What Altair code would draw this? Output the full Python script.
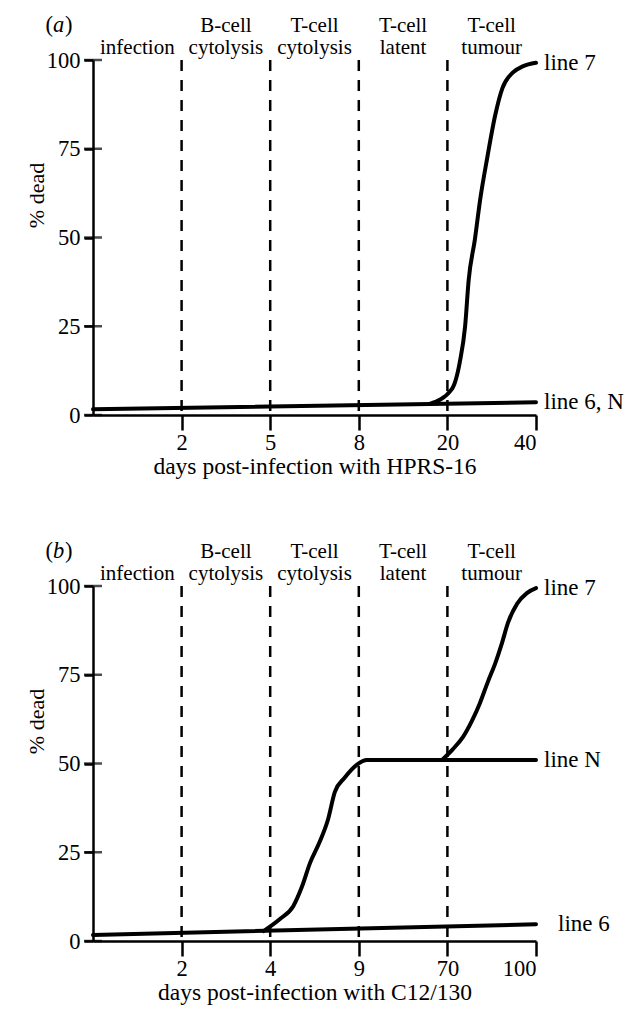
import altair as alt
import numpy as np
import pandas as pd

FONT = "Liberation Serif"

# ---------------- data ----------------
stage_top = ["", "B-cell", "T-cell", "T-cell", "T-cell"]
stage_bottom = ["infection", "cytolysis", "cytolysis", "latent", "tumour"]
y_ticks = [0, 25, 50, 75, 100]

# panel (a)
a_breaks = [0, 2, 5, 8, 20, 40]
a_line6_days = [0, 40]
a_line6_pct = [1.6, 3.6]
a_line7_days = [17.6, 21, 22.8, 24, 24.8, 26.2, 27.4, 29, 30.8, 32.4, 34.8, 37, 40]
a_line7_pct = [3.1, 7.3, 14.9, 25, 38, 49.4, 60.7, 72.5, 84.5, 92, 96.5, 98.2, 99.2]

# panel (b)
b_breaks = [0, 2, 4, 9, 70, 100]
b_line6_days = [0, 100]
b_line6_pct = [1.7, 4.7]
b_lineN_days = [3.85, 4.55, 5.3, 5.8, 6.25, 6.8, 7.25, 7.65, 8.2, 8.9, 14.5, 70, 100]
b_lineN_pct = [2.8, 6.2, 9.8, 15.4, 22, 28, 34, 42, 46, 49.7, 51, 51, 51]
b_line7_days = [66.3, 71.8, 75.3, 78.3, 81, 83.7, 86.1, 88.5, 90.5, 93.6, 96.9, 100]
b_line7_pct = [51, 54, 57.5, 62, 67, 73, 78, 84, 89.6, 95, 98, 99.4]


def to_pos(days, breaks):
    return np.interp(days, breaks, list(range(len(breaks))))


def txt(size=21, **kw):
    base = dict(font=FONT, fontSize=size, color="black", baseline="middle")
    base.update(kw)
    return base


def panel(tag, xtitle, breaks, series, near_labels, far_labels):
    n = len(breaks) - 1
    rows = []
    for name, days, pct in series:
        for d, p in zip(days, pct):
            rows.append({"series": name, "pos": float(to_pos(d, breaks)), "pct": p})
    lines_df = pd.DataFrame(rows)

    tick_labels = [""] + [str(b) for b in breaks[1:]]
    label_expr = "[" + ",".join("'" + t + "'" for t in tick_labels) + "][datum.value]"

    x_enc = alt.X(
        "pos:Q",
        scale=alt.Scale(domain=[0, n], nice=False, zero=False),
        axis=alt.Axis(
            values=list(range(1, n + 1)),
            labelExpr=label_expr,
            title=xtitle,
            tickSize=15,
            labelPadding=1,
            titlePadding=1,
            titleFontSize=23.5,
        ),
    )
    y_enc = alt.Y(
        "pct:Q",
        scale=alt.Scale(domain=[0, 100], nice=False),
        axis=alt.Axis(
            values=y_ticks,
            title="% dead",
            tickSize=9,
            labelPadding=4,
            titleX=-57,
            titleY=135,
            titleAlign="center",
            titleBaseline="middle",
        ),
    )

    curves = alt.Chart(lines_df).mark_line(
        color="black", strokeWidth=4, interpolate="monotone", strokeCap="round"
    ).encode(x=x_enc, y=y_enc, detail="series:N")

    dash_df = pd.DataFrame({"pos": list(range(1, n))})
    dashes = alt.Chart(dash_df).mark_rule(
        color="black", strokeWidth=2.5, strokeDash=[11, 9]
    ).encode(x="pos:Q", y=alt.datum(100), y2=alt.datum(0))

    ytick_df = pd.DataFrame({"pct": y_ticks})
    yticks = alt.Chart(ytick_df).mark_tick(
        orient="horizontal", size=18, thickness=2.5, color="black"
    ).encode(x=alt.datum(0), y="pct:Q")

    stage_df = pd.DataFrame(
        {"pos": [i + 0.5 for i in range(n)], "top": stage_top, "bottom": stage_bottom}
    )
    st_top = alt.Chart(stage_df).mark_text(**txt()).encode(
        x="pos:Q", y=alt.value(-34), text="top:N"
    )
    st_bot = alt.Chart(stage_df).mark_text(**txt()).encode(
        x="pos:Q", y=alt.value(-12), text="bottom:N"
    )

    near_df = pd.DataFrame(near_labels, columns=["label", "pct"]).assign(pos=n)
    near = alt.Chart(near_df).mark_text(**txt(size=23, align="left", dx=8)).encode(
        x="pos:Q", y="pct:Q", text="label:N"
    )
    layers = [dashes, yticks, curves, st_top, st_bot, near]
    if far_labels:
        far_df = pd.DataFrame(far_labels, columns=["label", "pct"]).assign(pos=n)
        far = alt.Chart(far_df).mark_text(**txt(size=23, align="left", dx=22)).encode(
            x="pos:Q", y="pct:Q", text="label:N"
        )
        layers.append(far)

    one = stage_df.head(1)
    tag_open = alt.Chart(one).mark_text(**txt(size=22.5, align="right")).encode(
        x=alt.value(-40), y=alt.value(-35), text=alt.value("(")
    )
    tag_letter = alt.Chart(one).mark_text(
        **txt(size=22.5, align="left", fontStyle="italic")
    ).encode(x=alt.value(-40), y=alt.value(-35), text=alt.value(tag))
    tag_close = alt.Chart(one).mark_text(**txt(size=22.5, align="left")).encode(
        x=alt.value(-28), y=alt.value(-35), text=alt.value(")")
    )
    layers += [tag_open, tag_letter, tag_close]

    return alt.layer(*layers).properties(width=443, height=355)


pa = panel(
    "a",
    "days post-infection with HPRS-16",
    a_breaks,
    [("line 6, N", a_line6_days, a_line6_pct), ("line 7", a_line7_days, a_line7_pct)],
    [("line 7", a_line7_pct[-1]), ("line 6, N", a_line6_pct[-1])],
    None,
)
pb = panel(
    "b",
    "days post-infection with C12/130",
    b_breaks,
    [
        ("line 6", b_line6_days, b_line6_pct),
        ("line N", b_lineN_days, b_lineN_pct),
        ("line 7", b_line7_days, b_line7_pct),
    ],
    [("line 7", b_line7_pct[-1]), ("line N", b_lineN_pct[-1])],
    [("line 6", b_line6_pct[-1])],
)

chart = (
    alt.vconcat(pa, pb, spacing=62)
    .properties(
        padding={"left": 17, "top": 6, "right": 5, "bottom": 5}, background="white"
    )
    .configure_view(stroke=None)
    .configure_text(font=FONT)
    .configure_axis(
        grid=False,
        domainWidth=2.5,
        domainColor="black",
        tickWidth=2.5,
        tickColor="black",
        labelFont=FONT,
        labelFontSize=22.5,
        labelColor="black",
        titleFont=FONT,
        titleFontSize=22,
        titleFontWeight="normal",
        titleColor="black",
    )
)

chart.save("out.html", embed_options={"renderer": "svg", "actions": False})
